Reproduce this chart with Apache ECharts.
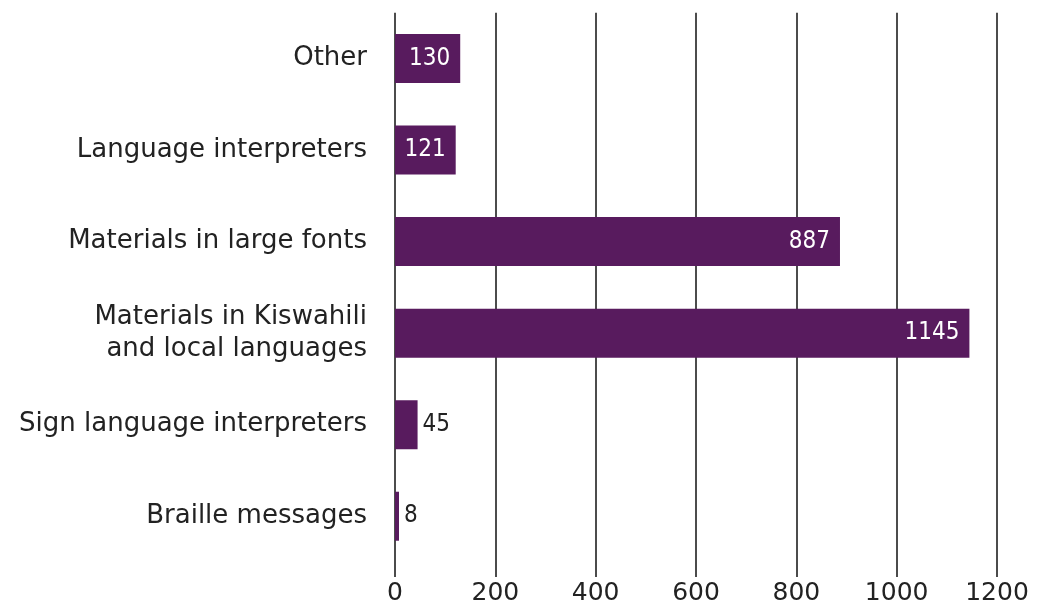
<!DOCTYPE html>
<html>
<head>
<meta charset="utf-8">
<script src="https://cdn.jsdelivr.net/npm/echarts@6/dist/echarts.min.js"></script>
<style>html,body{margin:0;padding:0;background:#fff;}#c{width:1047px;height:609px;}</style>
</head>
<body>
<div id="c"></div>
<script>
const categories = ["Other", "Language interpreters", "Materials in large fonts", "Materials in Kiswahili\nand local languages", "Sign language interpreters", "Braille messages"];
const values = [130, 121, 887, 1145, 45, 8];
const insideLabel = [true, true, true, true, false, false];
const xTicks = [0, 200, 400, 600, 800, 1000, 1200];

const chart = echarts.init(document.getElementById('c'), null, {renderer: 'canvas'});
const purple = '#581b5e';
const narrow = "'Liberation Sans Narrow', 'DejaVu Sans Condensed', 'Liberation Sans', sans-serif";
chart.setOption({
  animation: false,
  grid: {left: 395, right: 50, top: 12.75, bottom: 47, containLabel: false},
  xAxis: {
    type: 'value', min: xTicks[0], max: xTicks[xTicks.length - 1], interval: 200,
    axisLine: {show: false},
    axisTick: {show: true, length: 15, lineStyle: {color: '#111', width: 1.5}},
    splitLine: {show: true, lineStyle: {color: '#111', width: 1.5}},
    axisLabel: {color: '#222', fontSize: 25, fontFamily: 'DejaVu Sans', margin: 19, formatter: v => String(v)}
  },
  yAxis: {
    type: 'category', data: categories, inverse: true,
    axisLine: {show: false}, axisTick: {show: false},
    axisLabel: {color: '#222', fontSize: 26, fontFamily: 'DejaVu Sans', margin: 28, lineHeight: 32, align: 'right'}
  },
  series: [{
    type: 'bar',
    barWidth: 49,
    itemStyle: {color: purple},
    data: values.map((v, i) => ({
      value: v,
      label: insideLabel[i]
        ? {show: true, position: 'insideRight', distance: 10, color: '#fff'}
        : {show: true, position: 'right', distance: 5, color: '#222'}
    })),
    label: {show: true, fontFamily: narrow, fontSize: 24}
  }]
});
</script>
</body>
</html>
